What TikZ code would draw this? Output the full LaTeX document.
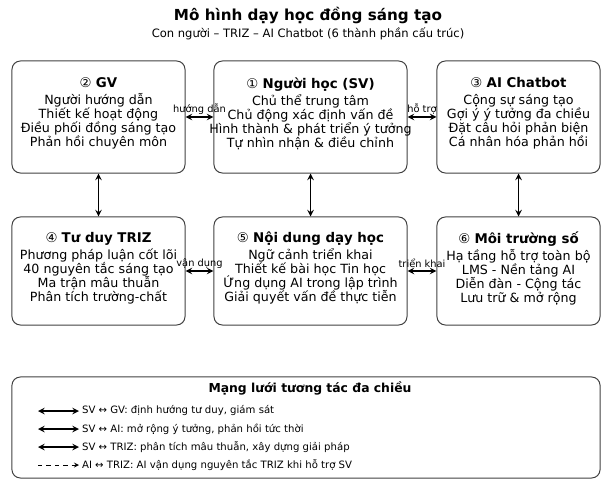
\documentclass[tikz,border=0pt]{standalone}
\usepackage{fontspec}
\setmainfont{DejaVu Sans}
\newcommand{\boxhead}[2]{{\fontsize{9.5}{11}\selectfont\textmd{#1} \textbf{#2}}\\[2pt]}
\begin{document}
\begin{tikzpicture}[x=0.025cm,y=-0.025cm,
  box/.style={draw=black!75,line width=0.7pt,rounded corners=6pt},
  txt/.style={align=center,inner sep=0pt,font=\fontsize{9}{10}\selectfont},
  link/.style={<->,>=stealth,line width=1.1pt},
  lbl/.style={font=\fontsize{7}{8}\selectfont,inner sep=1.5pt},
  legtxt/.style={font=\fontsize{7.2}{8}\selectfont,inner sep=2pt}]
\useasboundingbox (0,0) rectangle (604,484);
\node (title) at (308,16) {\fontsize{10.8}{12}\selectfont\bfseries Mô hình dạy học đồng sáng tạo};
\node (subtitle) at (308,34) {\fontsize{8.2}{9}\selectfont Con người – TRIZ – AI Chatbot (6 thành phần cấu trúc)};
\node[box,minimum width=4.325cm,minimum height=2.8cm] (gv) at (98.5,117) {};
\node[box,minimum width=4.825cm,minimum height=2.8cm] (sv) at (310.5,117) {};
\node[box,minimum width=4.075cm,minimum height=2.8cm] (ai) at (518.5,117) {};
\node[box,minimum width=4.325cm,minimum height=2.7cm] (triz) at (98.5,271) {};
\node[box,minimum width=4.825cm,minimum height=2.7cm] (nd) at (310.5,271) {};
\node[box,minimum width=4.075cm,minimum height=2.7cm] (mt) at (518.5,271) {};
\node[txt] (gvt) at ([yshift=2.5pt]gv.center) {\boxhead{②}{GV}Người hướng dẫn\\Thiết kế hoạt động\\Điều phối đồng sáng tạo\\Phản hồi chuyên môn};
\node[txt] (svt) at ([yshift=2.5pt]sv.center) {\boxhead{①}{Người học (SV)}Chủ thể trung tâm\\Chủ động xác định vấn đề\\Hình thành \& phát triển ý tưởng\\Tự nhìn nhận \& điều chỉnh};
\node[txt] (ait) at ([yshift=2.5pt]ai.center) {\boxhead{③}{AI Chatbot}Cộng sự sáng tạo\\Gợi ý ý tưởng đa chiều\\Đặt câu hỏi phản biện\\Cá nhân hóa phản hồi};
\node[txt] (trizt) at ([yshift=2pt]triz.center) {\boxhead{④}{Tư duy TRIZ}Phương pháp luận cốt lõi\\40 nguyên tắc sáng tạo\\Ma trận mâu thuẫn\\Phân tích trường-chất};
\node[txt] (ndt) at ([yshift=2pt]nd.center) {\boxhead{⑤}{Nội dung dạy học}Ngữ cảnh triển khai\\Thiết kế bài học Tin học\\Ứng dụng AI trong lập trình\\Giải quyết vấn đề thực tiễn};
\node[txt] (mtt) at ([yshift=2pt]mt.center) {\boxhead{⑥}{Môi trường số}Hạ tầng hỗ trợ toàn bộ\\LMS - Nền tảng AI\\Diễn đàn - Cộng tác\\Lưu trữ \& mở rộng};
\draw[link] (gv) -- node[lbl,above] {hướng dẫn} (sv);
\draw[link] (sv) -- node[lbl,above] {hỗ trợ} (ai);
\draw[link] (triz) -- node[lbl,above] {vận dụng} (nd);
\draw[link] (nd) -- node[lbl,above] {triển khai} (mt);
\draw[link] (gv) -- (triz);
\draw[link] (sv) -- (nd);
\draw[link] (ai) -- (mt);
\node[box,minimum width=14.7cm,minimum height=2.525cm] (leg) at (306,427.5) {};
\node (legtitle) at (310,388) {\fontsize{8.8}{10}\selectfont\bfseries Mạng lưới tương tác đa chiều};
\coordinate (a1) at (38,411); \coordinate (b1) at (79,411);
\coordinate (a2) at (38,429); \coordinate (b2) at (79,429);
\coordinate (a3) at (38,447); \coordinate (b3) at (79,447);
\coordinate (a4) at (38,465); \coordinate (b4) at (79,465);
\draw[link] (a1) -- (b1);
\draw[link] (a2) -- (b2);
\draw[link] (a3) -- (b3);
\draw[->,>=stealth,dashed,line width=0.6pt] (a4) -- (b4);
\node[legtxt,right] (l1) at (b1) {SV ↔ GV: định hướng tư duy, giám sát};
\node[legtxt,right] (l2) at (b2) {SV ↔ AI: mở rộng ý tưởng, phản hồi tức thời};
\node[legtxt,right] (l3) at (b3) {SV ↔ TRIZ: phân tích mâu thuẫn, xây dựng giải pháp};
\node[legtxt,right] (l4) at (b4) {AI ↔ TRIZ: AI vận dụng nguyên tắc TRIZ khi hỗ trợ SV};
\end{tikzpicture}
\end{document}
